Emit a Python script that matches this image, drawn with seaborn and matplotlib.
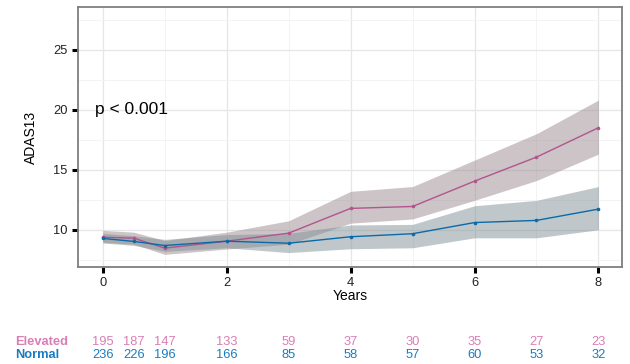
import numpy as np
import pandas as pd
import matplotlib
matplotlib.use("Agg")
import matplotlib.pyplot as plt
import matplotlib.transforms as mtransforms
import seaborn as sns

# ---- data ----
years = [0, 0.5, 1, 2, 3, 4, 5, 6, 7, 8]
elev_mean = [9.38, 9.30, 8.47, 9.05, 9.72, 11.78, 11.94, 14.05, 16.05, 18.50]
elev_lo   = [8.95, 8.80, 7.95, 8.40, 8.80, 10.55, 10.90, 12.45, 14.10, 16.30]
elev_hi   = [9.95, 9.80, 9.10, 9.80, 10.75, 13.20, 13.60, 15.80, 18.00, 20.80]
norm_mean = [9.28, 9.03, 8.69, 9.05, 8.88, 9.42, 9.67, 10.60, 10.78, 11.72]
norm_lo   = [8.90, 8.70, 8.20, 8.50, 8.10, 8.42, 8.50, 9.33, 9.33, 10.00]
norm_hi   = [9.70, 9.50, 9.20, 9.60, 9.70, 10.40, 10.45, 12.00, 12.45, 13.60]
elev_n = [195, 187, 147, 133, 59, 37, 30, 35, 27, 23]
norm_n = [236, 226, 196, 166, 85, 58, 57, 60, 53, 32]
groups = ["Elevated", "Normal"]
y_ticks = [10, 15, 20, 25]
x_ticks = [0, 2, 4, 6, 8]

sns.set_theme(style="whitegrid")
plt.rcParams['font.family'] = ['Liberation Sans', 'DejaVu Sans']

line_col = {"Elevated": "#b3548d", "Normal": "#0a6aa8"}
rib_col = {"Elevated": "#9b8b91", "Normal": "#819199"}
txt_col = {"Elevated": "#d87fb4", "Normal": "#1a7cc0"}

df = pd.DataFrame({
    "Years": years * 2,
    "ADAS13": elev_mean + norm_mean,
    "group": ["Elevated"] * len(years) + ["Normal"] * len(years),
})

fig = plt.figure(figsize=(6.3, 3.64), dpi=100)
ax = fig.add_axes([78 / 630, 1 - 267 / 364, (622 - 78) / 630, (267 - 7) / 364])
ax.set_facecolor("white")

ax.fill_between(years, elev_lo, elev_hi, color=rib_col["Elevated"], alpha=0.5, lw=0, zorder=2)
ax.fill_between(years, norm_lo, norm_hi, color=rib_col["Normal"], alpha=0.5, lw=0, zorder=2)

sns.lineplot(data=df, x="Years", y="ADAS13", hue="group", palette=line_col,
             marker="o", markersize=2.6, markeredgewidth=0, linewidth=1,
             legend=False, ax=ax, zorder=3)

ax.set_xlim(-0.4, 8.38)
ax.set_ylim(6.9, 28.55)
ax.set_xticks(x_ticks)
ax.set_yticks(y_ticks)
ax.set_xticks([1, 3, 5, 7], minor=True)
ax.set_yticks([7.5, 12.5, 17.5, 22.5, 27.5], minor=True)
ax.grid(True, which="major", color="#e6e6e6", lw=0.9)
ax.grid(True, which="minor", color="#f3f3f3", lw=0.7)
for s in ax.spines.values():
    s.set_color("#7f7f7f")
    s.set_linewidth(1.3)
ax.tick_params(axis="both", which="major", direction="out", length=4.5, width=2.2,
               color="black", labelsize=9.3, labelcolor="#222222", pad=3,
               bottom=True, left=True)
ax.tick_params(which="minor", length=0)
ax.set_xlabel("Years", fontsize=10, labelpad=0, color="black")
ax.set_ylabel("ADAS13", fontsize=10, labelpad=11, color="black")

ax.text(-0.12, 20, "p < 0.001", fontsize=12.5, ha="left", va="center", color="black")

# risk table
tab = fig.add_axes([78 / 630, 0, (622 - 78) / 630, 0.1])
tab.set_xlim(ax.get_xlim())
tab.set_ylim(0, 1)
tab.axis("off")
trans = mtransforms.blended_transform_factory(tab.transData, fig.transFigure)
rows = {"Elevated": (elev_n, 342), "Normal": (norm_n, 355)}
for g in groups:
    ns, ypix = rows[g]
    yf = 1 - ypix / 364
    for x, n in zip(years, ns):
        tab.text(x, yf, str(n), transform=trans,
                 ha="center", va="center", fontsize=9.3, color=txt_col[g])
    fig.text(15 / 630, yf, g, ha="left", va="center", fontsize=9.3,
             fontweight="bold", color=txt_col[g])

fig.savefig("out.png", dpi=100)
